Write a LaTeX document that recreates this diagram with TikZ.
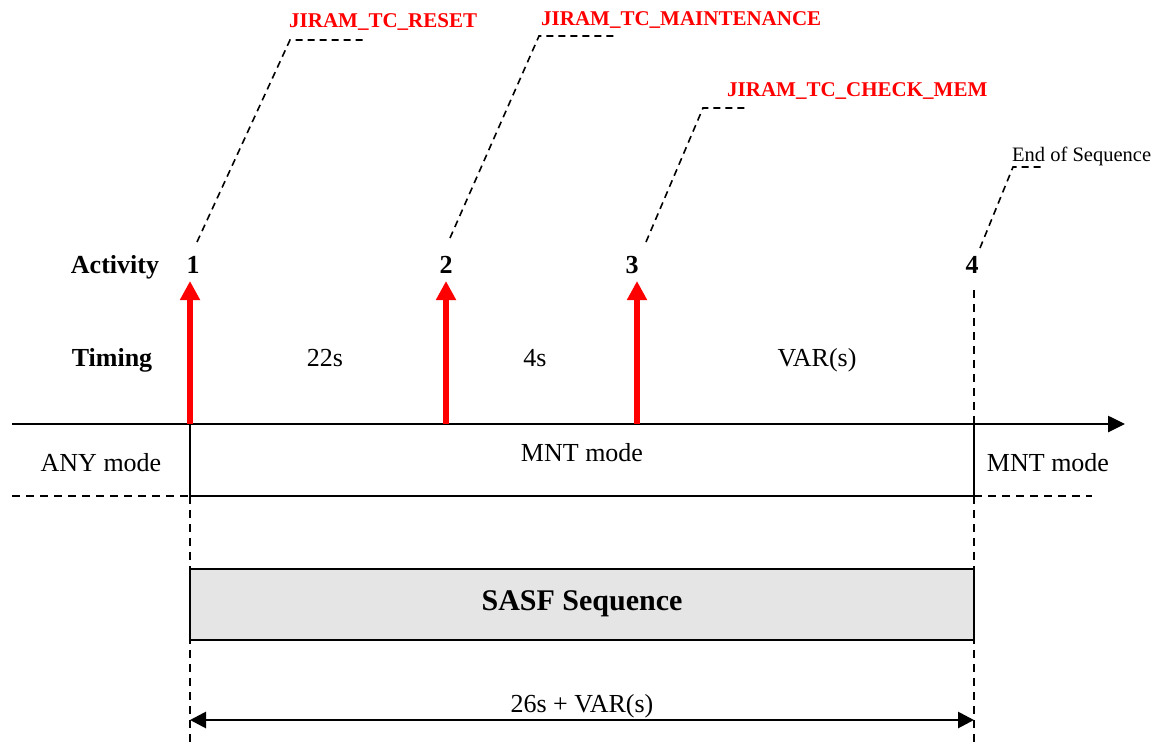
\documentclass[tikz,border=0pt]{standalone}
\usepackage{fontspec}
\setmainfont{Liberation Serif}
\usetikzlibrary{arrows.meta}
\begin{document}
\begin{tikzpicture}[x=1pt,y=-1pt,
  lbl/.style={inner sep=0pt, anchor=base, font=\fontsize{26}{30}\selectfont},
  blbl/.style={inner sep=0pt, anchor=base, font=\fontsize{26}{30}\selectfont\bfseries},
  tclbl/.style={inner sep=0pt, anchor=base west, text=red, font=\fontsize{21}{25}\selectfont\bfseries},
  eoslbl/.style={inner sep=0pt, anchor=base west, font=\fontsize{20.5}{24}\selectfont},
  leader/.style={line width=1.6pt, dash pattern=on 7pt off 5pt},
  guide/.style={line width=1.6pt, dash pattern=on 8pt off 6pt},
  axisline/.style={line width=2.6pt, -{Triangle[length=17pt,width=16pt]}},
  redarrow/.style={draw=red, line width=6.5pt, -{Triangle[length=19pt,width=19pt]}},
  boxline/.style={line width=2.2pt},
  sasfbox/.style={draw, line width=1.8pt, fill=black!10, minimum width=784pt, minimum height=71pt, inner sep=0pt},
  dimline/.style={line width=2.8pt, {Triangle[length=16pt,width=16pt]}-{Triangle[length=16pt,width=16pt]}}
]
\useasboundingbox (0,0) rectangle (1161,747);

% row labels
\node[blbl] (activity) at (115,273) {Activity};
\node[blbl] (timing) at (112,366) {Timing};
\node[blbl] (n1) at (193,273) {1};
\node[blbl] (n2) at (446,273) {2};
\node[blbl] (n3) at (632,273) {3};
\node[blbl] (n4) at (972,273) {4};
\node[lbl] (t1) at (325,366) {22s};
\node[lbl] (t2) at (535,366) {4s};
\node[lbl] (t3) at (817,366) {VAR(s)};

% coordinates
\coordinate (axL) at (12,424);
\coordinate (axR) at (1125,424);
\coordinate (bTL) at (190,424);
\coordinate (bTR) at (974,424);
\coordinate (bBL) at (190,496);
\coordinate (bBR) at (974,496);
\coordinate (dL) at (12,496);
\coordinate (dR) at (1092,496);
\coordinate (vL) at (190,747);
\coordinate (vR) at (974,747);
\coordinate (v4) at (974,290);
\coordinate (a2b) at (446,424);
\coordinate (a3b) at (637,424);
\coordinate (a1t) at (190,281);
\coordinate (a2t) at (446,281);
\coordinate (a3t) at (637,281);

% dashed guides
\draw[guide] (dL) -- (bBL);
\draw[guide] (bBR) -- (dR);
\draw[guide] (bBL) -- (vL);
\draw[guide] (bBR) -- (vR);
\draw[guide] (v4) -- (bTR);

% time axis
\draw[axisline] (axL) -- (axR);

% red activity arrows
\draw[redarrow] (bTL) -- (a1t);
\draw[redarrow] (a2b) -- (a2t);
\draw[redarrow] (a3b) -- (a3t);

% mode box
\draw[boxline] (bTL) -- (bBL) -- (bBR) -- (bTR);
\node[lbl] (any) at (101,471) {ANY mode};
\node[lbl] (mnt1) at (582,461) {MNT mode};
\node[lbl] (mnt2) at (1048,471) {MNT mode};

% SASF sequence
\node[sasfbox] (sasf) at (582,604.5) {};
\node[blbl, font=\fontsize{30}{34}\selectfont\bfseries] (sasftxt) at (582,610) {SASF Sequence};

% duration
\coordinate (dA) at (190,720);
\coordinate (dB) at (974,720);
\draw[dimline] (dA) -- (dB);
\node[lbl] (dur) at (582,712) {26s + VAR(s)};

% leaders
\coordinate (l1a) at (197,242);
\coordinate (l1b) at (290,40);
\coordinate (l1c) at (365,40);
\draw[leader] (l1a) -- (l1b) -- (l1c);
\node[tclbl] (tc1) at (289,27) {JIRAM\_TC\_RESET};

\coordinate (l2a) at (450,238);
\coordinate (l2b) at (539,36);
\coordinate (l2c) at (618,36);
\draw[leader] (l2a) -- (l2b) -- (l2c);
\node[tclbl] (tc2) at (541,25) {JIRAM\_TC\_MAINTENANCE};

\coordinate (l3a) at (646,242);
\coordinate (l3b) at (703,108);
\coordinate (l3c) at (747,108);
\draw[leader] (l3a) -- (l3b) -- (l3c);
\node[tclbl] (tc3) at (727,96) {JIRAM\_TC\_CHECK\_MEM};

\coordinate (l4a) at (980,248);
\coordinate (l4b) at (1013,167);
\coordinate (l4c) at (1041,167);
\draw[leader] (l4a) -- (l4b) -- (l4c);
\node[eoslbl] (eos) at (1012,161) {End of Sequence};
\end{tikzpicture}
\end{document}
